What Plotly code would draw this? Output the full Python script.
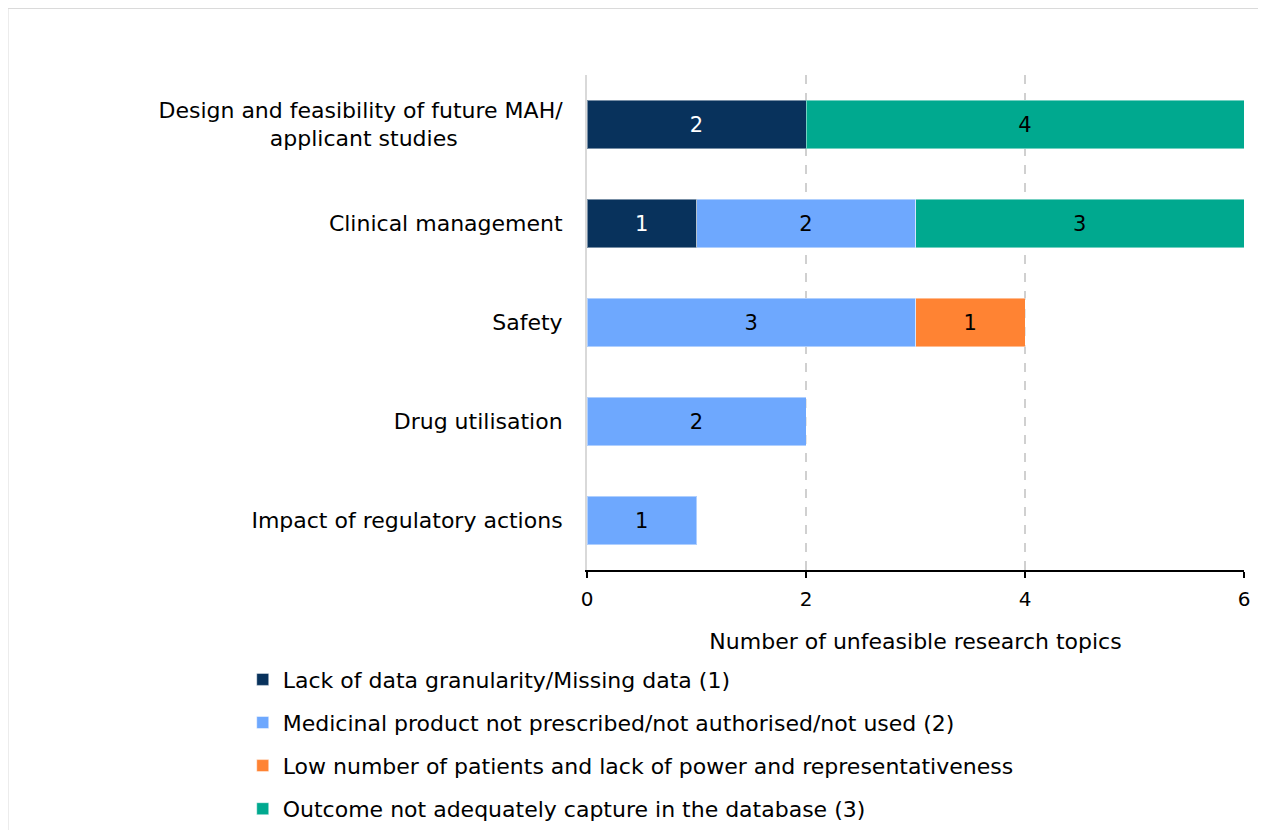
import plotly.graph_objects as go

NBSP = "\u00a0"

categories = [
    "Design and feasibility of future MAH/<br>applicant studies" + NBSP * 15,
    "Clinical management",
    "Safety",
    "Drug utilisation",
    "Impact of regulatory actions",
]

series_names = [
    "Lack of data granularity/Missing data (1)",
    "Medicinal product not prescribed/not authorised/not used (2)",
    "Low number of patients and lack of power and representativeness",
    "Outcome not adequately capture in the database (3)",
]

lack_data = [2, 1, None, None, None]
not_prescribed = [None, 2, 3, 2, 1]
low_patients = [None, None, 1, None, None]
outcome_not_captured = [4, 3, None, None, None]

x_ticks = [0, 2, 4, 6]
x_title = "Number of unfeasible research topics"

colors = ["#08325C", "#6EA8FE", "#FF8333", "#00A98F"]
text_colors = ["white", "black", "black", "black"]
all_values = [lack_data, not_prescribed, low_patients, outcome_not_captured]

FONT = "Verdana, DejaVu Sans, sans-serif"

fig = go.Figure()
for i, (name, vals) in enumerate(zip(series_names, all_values)):
    fig.add_trace(go.Bar(
        y=categories,
        x=vals,
        name=name,
        orientation="h",
        marker=dict(color=colors[i], line=dict(color="rgba(255,255,255,0.45)", width=1)),
        text=[("" if v is None else str(v)) for v in vals],
        textposition="inside",
        insidetextanchor="middle",
        textangle=0,
        textfont=dict(color=text_colors[i], size=21, family=FONT),
        legendgroup=f"g{i}",
        hoverinfo="x+y+name",
    ))

fig.update_layout(
    barmode="stack",
    bargap=0.515,
    width=1266,
    height=830,
    paper_bgcolor="white",
    plot_bgcolor="white",
    margin=dict(l=579, r=30, t=67, b=268, autoexpand=False),
    font=dict(family=FONT, size=22, color="black"),
    legend=dict(
        orientation="v",
        x=-0.524,
        xanchor="left",
        y=-0.179,
        yanchor="top",
        traceorder="grouped",
        tracegroupgap=11.5,
        font=dict(size=22, family=FONT, color="black"),
        itemwidth=30,
        bgcolor="rgba(0,0,0,0)",
    ),
    showlegend=True,
)

fig.update_xaxes(
    range=[0, 6],
    tickvals=x_ticks,
    ticktext=[str(t) for t in x_ticks],
    showgrid=True,
    gridcolor="#D0D0D0",
    griddash="dash",
    gridwidth=1.5,
    zeroline=False,
    showline=True,
    linecolor="black",
    linewidth=2,
    ticks="outside",
    ticklen=6,
    tickwidth=2,
    tickcolor="black",
    ticklabelstandoff=4,
    tickfont=dict(size=20, family=FONT),
    title=dict(text=NBSP * 3 + x_title, font=dict(size=22, family=FONT), standoff=24),
    fixedrange=True,
)

fig.update_yaxes(
    categoryorder="array",
    categoryarray=categories,
    autorange="reversed",
    showline=True,
    linecolor="#D9D9D9",
    linewidth=2,
    showgrid=False,
    ticks="",
    ticklabelstandoff=18,
    tickfont=dict(size=22, family=FONT),
    fixedrange=True,
)

# outer frame (top/left visible, right/bottom off-canvas)
fig.add_shape(
    type="rect",
    xref="paper", yref="paper",
    x0=(7.5 - 587) / 657, x1=(1285 - 587) / 657,
    y0=(570 - 850) / 495, y1=(570 - 8) / 495,
    line=dict(color="#DADADA", width=2),
    fillcolor="rgba(0,0,0,0)",
    layer="below",
)

fig.write_html("out.html")
